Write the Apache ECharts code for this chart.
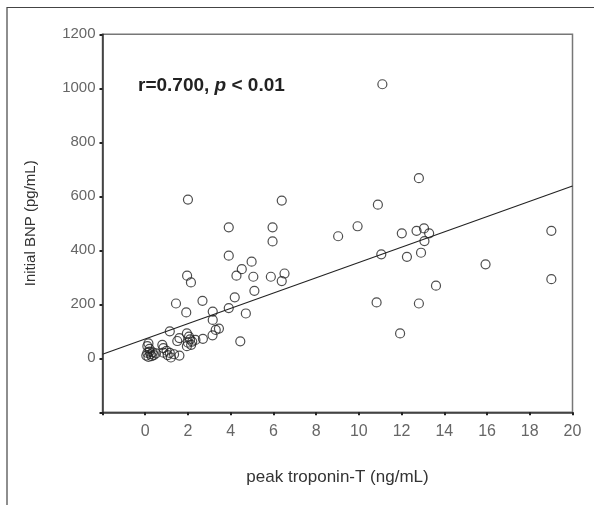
<!DOCTYPE html>
<html>
<head>
<meta charset="utf-8">
<script src="https://cdn.jsdelivr.net/npm/echarts@6/dist/echarts.min.js"></script>
<style>html,body{margin:0;padding:0;background:#fff}#c{width:594px;height:505px}</style>
</head>
<body>
<div id="c"></div>
<script>
// peak troponin-T (ng/mL)
const troponinT = [
  11.10, 12.81, 2.00, 6.39, 10.89, 3.91, 5.96, 9.94, 5.96, 9.03,
  12.01, 12.70, 13.05, 13.29, 13.07, 19.01, 3.91, 11.05, 12.25, 12.91,
  4.98, 4.52, 1.96, 2.14, 4.27, 5.06, 5.88, 6.52, 6.39, 15.93,
  19.01, 13.61, 5.11, 4.19, 2.68, 1.44, 10.83, 12.81, 1.92, 3.16,
  3.91, 4.71, 3.16, 11.93,
  0.05, 0.10, 0.15, 0.20, 0.25, 0.30, 0.35, 0.20, 0.10, 0.15, 0.40, 0.50,
  0.80, 0.85, 0.85, 1.00, 1.05, 1.15, 1.20, 1.35, 1.60, 1.15, 1.50, 1.60,
  1.95, 2.05, 2.10, 2.00, 2.15, 1.95, 2.20, 2.35, 2.70,
  3.15, 3.30, 3.45, 4.45
];
// initial BNP (pg/mL)
const bnp = [
  1015, 667, 588, 584, 569, 485, 485, 489, 433, 452,
  463, 472, 481, 463, 434, 472, 380, 385, 376, 391,
  358, 330, 306, 281, 306, 302, 302, 314, 286, 348,
  293, 269, 250, 226, 213, 203, 207, 203, 170, 173,
  186, 166, 142, 92,
  10, 20, 5, 25, 15, 8, 22, 35, 45, 55, 12, 18,
  50, 38, 21, 28, 12, 20, 3, 15, 10, 100, 64, 75,
  92, 80, 70, 58, 50, 45, 62, 68, 72,
  85, 105, 110, 63
];
// fitted regression line
const fitX = [-2, 20];
const fitY = [15, 638];
const xTicks = [0, 2, 4, 6, 8, 10, 12, 14, 16, 18, 20];
const yTicks = [0, 200, 400, 600, 800, 1000, 1200];

const points = troponinT.map((x, i) => [x, bnp[i]]);
const fitLine = fitX.map((x, i) => [x, fitY[i]]);

const chart = echarts.init(document.getElementById('c'), null, {renderer: 'canvas'});
const FONT = '"Liberation Sans", Arial, sans-serif';
chart.setOption({
  animation: false,
  backgroundColor: '#fff',
  grid: {
    left: 102.5, right: 21.5, top: 34.3, bottom: 92.7,
    show: true, borderColor: '#777', borderWidth: 1.5, backgroundColor: 'transparent'
  },
  xAxis: {
    type: 'value', min: -2, max: 20, interval: 2,
    name: 'peak troponin-T (ng/mL)', nameLocation: 'middle', nameGap: 57,
    nameTextStyle: {fontFamily: FONT, fontSize: 17, color: '#333'},
    axisLine: {show: true, onZero: false, lineStyle: {color: '#333', width: 1.5}},
    axisTick: {show: true, length: 3, lineStyle: {color: '#222', width: 2}},
    axisLabel: {
      margin: 11, fontFamily: FONT, fontSize: 16, color: '#666',
      formatter: v => xTicks.includes(v) ? String(v) : ''
    },
    splitLine: {show: false}
  },
  yAxis: {
    type: 'value', min: -200, max: 1200, interval: 200,
    name: 'Initial BNP (pg/mL)', nameLocation: 'middle', nameGap: 64,
    nameTextStyle: {fontFamily: FONT, fontSize: 15, color: '#333'},
    axisLine: {show: true, onZero: false, lineStyle: {color: '#333', width: 1.5}},
    axisTick: {show: true, length: 3, lineStyle: {color: '#222', width: 2}},
    axisLabel: {
      margin: 7, fontFamily: FONT, fontSize: 15, color: '#666',
      formatter: v => yTicks.includes(v) ? String(v) : ''
    },
    splitLine: {show: false}
  },
  graphic: [
    {
      type: 'polyline', silent: true,
      shape: {points: [[7, 505], [7, 7.5], [594, 7.5]]},
      style: {stroke: '#444', lineWidth: 1.2, fill: null}
    },
    {
      type: 'text', left: 138, top: 76,
      style: {
        text: '{a|r=0.700, }{b|p}{a| < 0.01}',
        rich: {
          a: {fontFamily: FONT, fontSize: 19, fontWeight: 'bold', fill: '#222'},
          b: {fontFamily: FONT, fontSize: 19, fontWeight: 'bold', fontStyle: 'italic', fill: '#222'}
        }
      }
    }
  ],
  series: [
    {
      type: 'line', data: fitLine, symbol: 'none', silent: true,
      lineStyle: {color: '#222', width: 1.1}, z: 1
    },
    {
      type: 'scatter', data: points, symbol: 'circle', symbolSize: 9,
      itemStyle: {color: 'rgba(255,255,255,0)', borderColor: '#222', borderWidth: 1.2},
      z: 2
    }
  ]
});
</script>
</body>
</html>
